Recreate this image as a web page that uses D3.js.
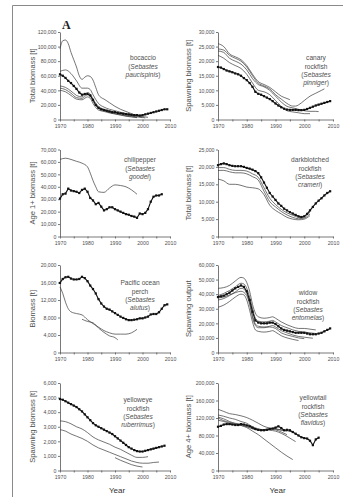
<!DOCTYPE html>
<html>
<head>
<meta charset="utf-8">
<script src="https://cdn.jsdelivr.net/npm/d3@7"></script>
<style>
  body { margin: 0; background: #fff; }
  svg { display: block; font-family: "Liberation Sans", Arial, sans-serif; }
</style>
</head>
<body>
<svg id="chart" width="343" height="497"></svg>
<script>
// ==========================================================================
// DATA (biomass values in thousand t; thick series = yearly from 1970)
// ==========================================================================

const yearTicks = [1970, 1975, 1980, 1985, 1990, 1995, 2000, 2005, 2010];
const yearLabels = [1970, 1980, 1990, 2000, 2010];

// --- bocaccio
const bocaccioTicks = [0, 20, 40, 60, 80, 100, 120];
const bocaccioMain = [62, 60, 57, 53, 50, 46, 42, 37, 34, 35,
  35, 33, 27, 20, 16, 14, 13, 12, 11, 10,
  10, 9, 8.5, 8, 7.5, 7, 6.5, 6, 6, 5.5,
  6, 7, 8, 9, 10, 11, 12, 13, 14, 14];
const bocaccioAlts = [
  [[1970, 97], [1971, 108], [1972, 109], [1973, 104], [1974, 92], [1975, 82], [1976, 72], [1977, 60], [1978, 55], [1979, 58], [1980, 60], [1981, 59], [1982, 54], [1983, 44], [1984, 34], [1985, 30], [1986, 28], [1988, 23], [1990, 18], [1992, 14], [1994, 11], [1996, 8], [1998, 5], [2000, 3], [2001, 2]],
  [[1970, 66], [1972, 68], [1974, 63], [1976, 53], [1978, 43], [1980, 43], [1981, 41], [1982, 34], [1984, 22], [1986, 17], [1988, 14], [1990, 12], [1992, 10], [1994, 8], [1996, 6], [1998, 5], [2000, 4], [2002, 3]],
  [[1970, 46], [1972, 44], [1974, 39], [1976, 33], [1978, 31], [1980, 37], [1981, 35], [1982, 28], [1984, 18], [1986, 14], [1988, 12], [1990, 10], [1992, 8], [1994, 6], [1996, 5], [1998, 3.5], [2000, 2.5]],
  [[1970, 43], [1972, 41], [1974, 36], [1976, 30], [1978, 29], [1980, 34], [1981, 32], [1982, 25], [1984, 15], [1986, 12], [1988, 10], [1990, 8], [1992, 6.5], [1994, 5], [1996, 4], [1998, 3]],
  [[1970, 40], [1972, 38], [1974, 33], [1976, 28], [1978, 27], [1980, 31], [1981, 29], [1982, 22], [1984, 13], [1986, 11], [1988, 9], [1990, 7.5], [1992, 6], [1994, 4.5], [1996, 3.5], [1998, 2.5]]
];

// --- canary rockfish
const canaryTicks = [0, 5, 10, 15, 20, 25, 30];
const canaryMain = [18.0, 17.8, 17.3, 16.8, 16.5, 16.2, 15.8, 15.5, 15.0, 14.2,
  13.5, 12.5, 11.2, 9.5, 8.8, 8.5, 8.0, 7.5, 7.0, 6.3,
  5.5, 4.8, 4.2, 3.7, 3.4, 3.3, 3.3, 3.3, 3.2, 3.2,
  3.3, 3.6, 4.0, 4.4, 4.8, 5.1, 5.4, 5.7, 6.0, 6.3];
const canaryAlts = [
  [[1970, 26], [1972, 25], [1974, 22.5], [1976, 21.5], [1978, 20.5], [1980, 18.5], [1982, 15.5], [1984, 13], [1986, 12], [1988, 11], [1990, 9.5], [1992, 8], [1994, 7.2], [1995, 6.8]],
  [[1970, 24.2], [1972, 23.8], [1974, 22], [1976, 21], [1978, 20], [1980, 18], [1982, 15], [1984, 12.5], [1986, 11.5], [1988, 10.5], [1990, 8.5], [1992, 7], [1994, 5.5], [1996, 4.6], [1997, 4.6], [1998, 5], [2000, 6.5], [2002, 8], [2004, 9], [2006, 10], [2007, 10.5]],
  [[1970, 23.5], [1972, 23], [1974, 21], [1976, 20], [1978, 19], [1980, 17], [1982, 14], [1984, 12], [1986, 11.2], [1988, 10], [1990, 8], [1992, 6], [1994, 4.5], [1996, 4], [1998, 3.5], [2000, 3], [2002, 2.8], [2004, 2.8], [2005, 2.7]],
  [[1970, 22], [1972, 21], [1974, 19.5], [1976, 18.5], [1978, 17.5], [1980, 15.5], [1982, 12.5], [1984, 10], [1986, 9.5], [1988, 8.5], [1990, 6.5], [1992, 4.5], [1994, 3], [1996, 2.6], [1998, 2.3], [2000, 2], [2002, 2]]
];

// --- chilipepper
const chilipepperTicks = [0, 10, 20, 30, 40, 50, 60, 70];
const chilipepperMain = [30.5, 34, 34.5, 38.5, 37, 36.5, 36, 35, 37.5, 38.5,
  36, 31, 29, 26, 27, 24, 21, 22, 23.5, 23.5,
  22, 21, 20, 19, 18, 17.5, 16.5, 16, 15, 18.5,
  18, 19, 22, 28, 32, 33, 33, 34];
const chilipepperAlts = [
  [[1970, 62], [1972, 63], [1974, 62], [1976, 60.5], [1978, 59], [1980, 56], [1981, 51], [1982, 45], [1983, 40], [1984, 36], [1986, 35.5], [1988, 39], [1990, 41.5], [1992, 41], [1994, 40], [1996, 37.5], [1998, 34]]
];

// --- darkblotched rockfish
const darkblotchedTicks = [0, 5, 10, 15, 20, 25];
const darkblotchedMain = [20.5, 20.8, 21, 20.8, 20.5, 20.3, 20.2, 20.2, 20.2, 20.0,
  19.7, 19.5, 19.2, 18.8, 18.2, 17, 15.5, 14, 12.5, 11.5,
  10.5, 9.5, 8.8, 8, 7.5, 7, 6.6, 6.2, 5.8, 5.6,
  5.8, 6.5, 7.5, 8.5, 9.5, 10.3, 11, 11.8, 12.5, 13];
const darkblotchedAlts = [
  [[1970, 19.8], [1972, 19.8], [1974, 19.3], [1976, 19], [1978, 19], [1980, 18.8], [1982, 18], [1984, 17], [1986, 14], [1988, 11], [1990, 9.2], [1992, 7.8], [1994, 6.8], [1996, 6.1], [1998, 5.5], [1999, 5.4], [2000, 5.7], [2002, 7]],
  [[1970, 19], [1972, 19], [1974, 18.6], [1976, 18.3], [1978, 18.3], [1980, 18], [1982, 17.2], [1984, 16.2], [1986, 13], [1988, 10], [1990, 8.5], [1992, 7.2], [1994, 6.2], [1996, 5.5], [1998, 5.1], [2000, 5.3], [2002, 6.5]],
  [[1970, 16.5], [1972, 16], [1974, 15], [1976, 15], [1978, 14.7], [1980, 14.2], [1982, 14], [1984, 13.7], [1986, 12], [1988, 9], [1990, 7.5], [1992, 6.5], [1994, 5.5], [1996, 5], [1998, 4.8], [2000, 5], [2002, 6]]
];

// --- Pacific ocean perch
const popTicks = [0, 4, 8, 12, 16, 20];
const popMain = [15.9, 16.8, 17.2, 17.3, 16.9, 16.7, 16.7, 16.8, 17.3, 17,
  16.3, 15.3, 14.5, 13.5, 12.2, 11.2, 10.5, 10, 9.8, 9.4,
  9, 8.6, 8.2, 7.9, 7.6, 7.4, 7.4, 7.5, 7.6, 7.8,
  7.8, 8, 8.2, 8.7, 8.8, 8.8, 9.2, 10, 10.8, 11];
const popAlts = [
  [[1970, 15], [1971, 13.5], [1972, 11.5], [1973, 10], [1974, 9.3], [1976, 8.9], [1978, 8.6], [1980, 7.5], [1982, 6.6], [1984, 5.8], [1986, 5], [1988, 4.5], [1990, 4.2], [1992, 4.2], [1994, 4.2], [1996, 4.5], [1998, 5.3]],
  [[1978, 7.6], [1980, 7.1], [1982, 6.8], [1984, 5.6], [1986, 4.6], [1988, 3.8], [1990, 3.4], [1991, 2.9]]
];

// --- widow rockfish
const widowTicks = [0, 10, 20, 30, 40, 50, 60];
const widowMain = [38, 38.5, 39, 40, 41, 42.5, 44, 45, 46, 45,
  42, 36, 28, 22, 20.5, 20, 20, 20, 20.5, 20.5,
  19.5, 18, 16.5, 15.5, 15, 14.5, 14, 13.5, 13.5, 13.5,
  13.5, 13, 12.5, 12.5, 12.5, 13, 13.5, 14.5, 15.5, 16.5];
const widowAlts = [
  [[1970, 44], [1972, 44.5], [1974, 46], [1976, 49], [1978, 51.5], [1979, 51], [1980, 48], [1981, 42], [1982, 33], [1983, 27], [1984, 24.5], [1986, 23.5], [1988, 24], [1989, 24.5], [1990, 23.5], [1992, 21], [1994, 19], [1996, 17.5], [1998, 16.5], [2000, 16.5], [2002, 16], [2004, 15.5]],
  [[1970, 39], [1972, 40.5], [1974, 42.5], [1976, 45], [1978, 47.5], [1979, 47], [1980, 44], [1981, 38], [1982, 30], [1983, 23.5], [1984, 21.5], [1986, 21], [1988, 21.5], [1989, 22], [1990, 21], [1992, 18.5], [1994, 17], [1996, 15.5], [1998, 14.5], [2000, 14], [2002, 13.5], [2004, 13]],
  [[1970, 37.5], [1972, 38], [1974, 39.5], [1976, 41], [1978, 42], [1980, 39], [1981, 33], [1982, 24], [1983, 18.5], [1984, 17], [1986, 17], [1988, 17.5], [1990, 16.5], [1992, 13.5], [1994, 12], [1996, 11], [1998, 10], [2000, 9.5]],
  [[1970, 36], [1972, 37], [1974, 39], [1976, 41.5], [1978, 44], [1979, 43.5], [1980, 40.5], [1981, 34.5], [1982, 25.5], [1983, 19.5], [1984, 18], [1986, 17.5], [1988, 18], [1989, 18.5], [1990, 17.5], [1992, 15], [1994, 13.5], [1996, 12], [1998, 11], [2000, 10.5], [2002, 10], [2003, 9.8]],
  [[1970, 31], [1972, 32.5], [1974, 35], [1976, 38], [1978, 40], [1979, 39.5], [1980, 36], [1981, 29], [1982, 21], [1983, 15.5], [1984, 14.5], [1986, 14], [1988, 14.5], [1989, 15], [1990, 14], [1992, 11.5], [1994, 10], [1996, 9], [1998, 8.2]]
];

// --- yelloweye rockfish
const yelloweyeTicks = [0, 1, 2, 3, 4, 5, 6];
const yelloweyeMain = [4.9, 4.85, 4.75, 4.65, 4.55, 4.45, 4.35, 4.2, 4.05, 3.85,
  3.65, 3.45, 3.25, 3.1, 3.0, 2.9, 2.8, 2.7, 2.6, 2.5,
  2.35, 2.2, 2.05, 1.9, 1.75, 1.6, 1.5, 1.4, 1.33, 1.3,
  1.3, 1.35, 1.4, 1.45, 1.5, 1.55, 1.6, 1.65, 1.7];
const yelloweyeAlts = [
  [[1970, 3.4], [1972, 3.35], [1974, 3.2], [1976, 3.0], [1978, 2.85], [1980, 2.6], [1982, 2.3], [1984, 2.1], [1986, 1.95], [1988, 1.8], [1990, 1.6], [1992, 1.45], [1994, 1.25], [1996, 1.05], [1998, 0.9], [2000, 0.9], [2002, 0.95]],
  [[1970, 2.8], [1972, 2.7], [1974, 2.5], [1976, 2.35], [1978, 2.2], [1980, 2.0], [1982, 1.75], [1984, 1.55], [1986, 1.4], [1988, 1.25], [1990, 1.1], [1992, 0.95], [1994, 0.8], [1996, 0.65], [1998, 0.55], [2000, 0.5], [2002, 0.5], [2004, 0.55], [2006, 0.58]],
  [[1990, 0.88], [1992, 0.7], [1994, 0.55], [1996, 0.4], [1998, 0.3], [2000, 0.24]]
];

// --- yellowtail rockfish
const yellowtailTicks = [0, 40, 80, 120, 160, 200];
const yellowtailMain = [100, 102, 105, 106, 106, 105, 104, 104, 106, 105,
  103, 101, 98, 95, 93, 92, 92, 93, 95, 96,
  98, 101, 97, 92, 93, 92, 88, 84, 80, 76,
  74, 73, 68, 58, 71, 75];
const yellowtailAlts = [
  [[1970, 140], [1972, 135], [1974, 130], [1976, 128], [1978, 125], [1980, 121], [1982, 115], [1984, 108], [1986, 101], [1988, 97], [1990, 95], [1992, 93], [1994, 91], [1996, 88]],
  [[1970, 127], [1972, 124], [1974, 120], [1976, 117], [1978, 112], [1980, 108], [1982, 100], [1984, 95], [1986, 93], [1988, 92], [1990, 90], [1992, 85], [1994, 78], [1996, 70], [1997, 66]],
  [[1970, 122], [1972, 118], [1974, 112], [1976, 108], [1978, 106], [1980, 104], [1982, 98], [1984, 93], [1986, 92], [1988, 94], [1990, 93], [1992, 88], [1994, 82]],
  [[1970, 115], [1972, 112], [1974, 108], [1976, 105], [1978, 103], [1980, 100], [1982, 95], [1984, 92], [1986, 93], [1988, 96], [1990, 95], [1992, 92], [1994, 90]],
  [[1970, 120], [1972, 114], [1974, 110], [1976, 107], [1978, 103], [1980, 98], [1982, 90], [1984, 82], [1986, 72], [1988, 62], [1990, 52], [1992, 42], [1994, 33], [1996, 25]]
];

// ==========================================================================
// PANELS
// ==========================================================================

const panels = [
  { col: 0, row: 0, main: bocaccioMain, alts: bocaccioAlts, ticks: bocaccioTicks,
    yTitle: 'Total biomass [t]', common: ['bocaccio'], latin: ['Sebastes', 'paucispinis'], label: [143, 58] },
  { col: 1, row: 0, main: canaryMain, alts: canaryAlts, ticks: canaryTicks,
    yTitle: 'Spawning biomass [t]', common: ['canary', 'rockfish'], latin: ['Sebastes', 'pinniger'], label: [316, 58] },
  { col: 0, row: 1, main: chilipepperMain, alts: chilipepperAlts, ticks: chilipepperTicks,
    yTitle: 'Age 1+ biomass [t]', common: ['chilipepper'], latin: ['Sebastes', 'goodei'], label: [140, 160] },
  { col: 1, row: 1, main: darkblotchedMain, alts: darkblotchedAlts, ticks: darkblotchedTicks,
    yTitle: 'Total biomass [t]', common: ['darkblotched', 'rockfish'], latin: ['Sebastes', 'crameri'], label: [310, 160] },
  { col: 0, row: 2, main: popMain, alts: popAlts, ticks: popTicks,
    yTitle: 'Biomass [t]', common: ['Pacific ocean', 'perch'], latin: ['Sebastes', 'alutus'], label: [140, 283] },
  { col: 1, row: 2, main: widowMain, alts: widowAlts, ticks: widowTicks,
    yTitle: 'Spawning output', common: ['widow', 'rockfish'], latin: ['Sebastes', 'entomelas'], label: [308, 293] },
  { col: 0, row: 3, main: yelloweyeMain, alts: yelloweyeAlts, ticks: yelloweyeTicks,
    yTitle: 'Spawning biomass [t]', common: ['yelloweye', 'rockfish'], latin: ['Sebastes', 'ruberrimus'], label: [138, 400] },
  { col: 1, row: 3, main: yellowtailMain, alts: yellowtailAlts, ticks: yellowtailTicks,
    yTitle: 'Age 4+ biomass [t]', common: ['yellowtail', 'rockfish'], latin: ['Sebastes', 'flavidus'], label: [313, 398] }
];

const colX = [[60, 170], [218, 333]];
const rowY = [[32, 119.5], [149.5, 236.5], [265, 352.5], [383, 470.5]];
const titleX = [32, 188];
const mainStart = 1970;

const TEXT = '#505050';
const AXIS = '#555';

// ==========================================================================
// DRAW
// ==========================================================================

const svg = d3.select('#chart');

// frame of the scanned figure
svg.append('line').attr('x1', 12.5).attr('x2', 343).attr('y1', 5.5).attr('y2', 5.5)
  .attr('stroke', '#8a8a8a').attr('stroke-width', 1);
svg.append('line').attr('x1', 12.5).attr('x2', 12.5).attr('y1', 5.5).attr('y2', 497)
  .attr('stroke', '#8a8a8a').attr('stroke-width', 1);

svg.append('text').attr('x', 62).attr('y', 29)
  .attr('font-family', '"Liberation Serif", "DejaVu Serif", serif')
  .attr('font-weight', 'bold').attr('font-size', 12).attr('fill', '#222')
  .text('A');

const fmt = d3.format(',');

panels.forEach(p => {
  const [x0, x1] = colX[p.col];
  const [yTop, yBot] = rowY[p.row];
  const yMax = p.ticks[p.ticks.length - 1];

  const x = d3.scaleLinear().domain([1970, 2010]).range([x0, x1]);
  const y = d3.scaleLinear().domain([0, yMax]).range([yBot, yTop]);

  const g = svg.append('g');

  // axes
  const xAxis = g.append('g')
    .attr('transform', `translate(0,${yBot})`)
    .call(d3.axisBottom(x).tickValues(yearTicks).tickSize(2).tickSizeOuter(0)
      .tickFormat(d => yearLabels.includes(d) ? d : ''));
  const yAxis = g.append('g')
    .attr('transform', `translate(${x0},0)`)
    .call(d3.axisLeft(y).tickValues(p.ticks).tickSize(2).tickSizeOuter(0)
      .tickFormat(d => fmt(d * 1000)));

  [xAxis, yAxis].forEach(a => {
    a.selectAll('.domain, .tick line').attr('stroke', AXIS).attr('stroke-width', 0.8);
    a.selectAll('text').attr('fill', TEXT).attr('font-size', 5.2)
      .attr('font-family', '"Liberation Sans", Arial, sans-serif');
  });
  xAxis.selectAll('text').attr('dy', '0.71em').attr('y', 5);
  yAxis.selectAll('text').attr('x', -3.5);

  // y axis title
  g.append('text')
    .attr('transform', `translate(${titleX[p.col]},${(yTop + yBot) / 2}) rotate(-90)`)
    .attr('text-anchor', 'middle').attr('dominant-baseline', 'central')
    .attr('font-size', 7.6).attr('fill', TEXT)
    .text(p.yTitle);

  // alternative assessments: thin lines
  const thin = d3.line().x(d => x(d[0])).y(d => y(d[1])).curve(d3.curveMonotoneX);
  g.selectAll('path.alt').data(p.alts).join('path')
    .attr('class', 'alt')
    .attr('d', thin)
    .attr('fill', 'none').attr('stroke', '#3a3a3a').attr('stroke-width', 0.7);

  // current assessment: thick line with markers
  const pts = p.main.map((v, i) => [mainStart + i, v]);
  g.append('path')
    .attr('d', d3.line().x(d => x(d[0])).y(d => y(d[1]))(pts))
    .attr('fill', 'none').attr('stroke', '#111').attr('stroke-width', 1.1);
  g.selectAll('rect.mk').data(pts).join('rect')
    .attr('class', 'mk')
    .attr('x', d => x(d[0]) - 1.1).attr('y', d => y(d[1]) - 1.1)
    .attr('width', 2.2).attr('height', 2.2)
    .attr('fill', '#111');

  // species label
  const [lx, ly] = p.label;
  const lab = g.append('text').attr('text-anchor', 'middle')
    .attr('font-size', 6.6).attr('fill', TEXT);
  const step = 8.3;
  let k = 0;
  p.common.forEach(s => {
    lab.append('tspan').attr('x', lx).attr('y', ly + 2.3 + step * k++).text(s);
  });
  p.latin.forEach((s, i) => {
    const t = lab.append('tspan').attr('x', lx).attr('y', ly + 2.3 + step * k++);
    if (i === 0) t.append('tspan').text('(');
    t.append('tspan').attr('font-style', 'italic').text(s);
    if (i === p.latin.length - 1) t.append('tspan').text(')');
  });
});

// x axis titles under the bottom row
[0, 1].forEach(c => {
  svg.append('text')
    .attr('x', (colX[c][0] + colX[c][1]) / 2 + 2).attr('y', 493)
    .attr('text-anchor', 'middle').attr('font-size', 8).attr('fill', '#333')
    .text('Year');
});
</script>
</body>
</html>
